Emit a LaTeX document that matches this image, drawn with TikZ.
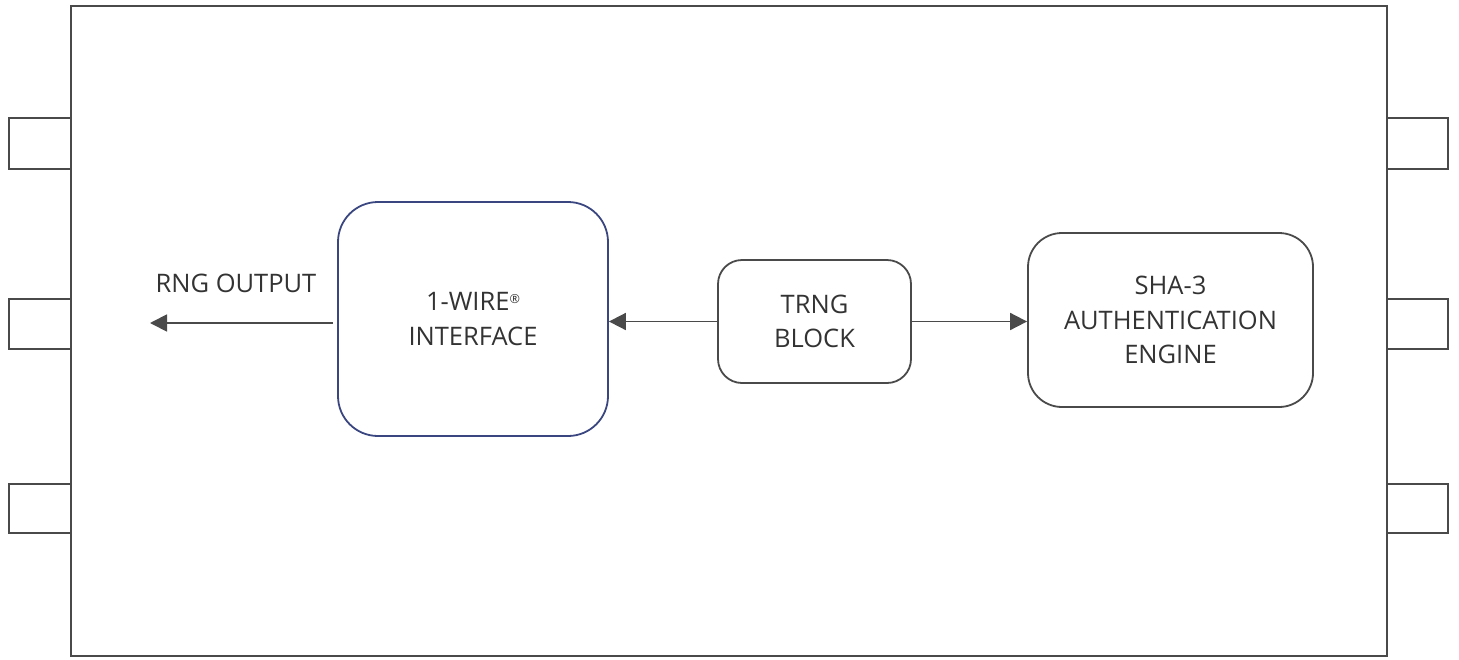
\documentclass[tikz,border=0pt]{standalone}
\usepackage{fontspec}
\setmainfont{Open Sans}
\usetikzlibrary{arrows.meta}
\definecolor{linegray}{HTML}{4A4A4A}
\definecolor{textgray}{HTML}{333333}
\definecolor{ifblue}{HTML}{3A4680}
\tikzset{
  frame/.style={draw=linegray, line width=2pt},
  pin/.style={draw=linegray, line width=2pt},
  block/.style={draw=linegray, line width=1.8pt, align=center, text=textgray,
    font=\fontsize{25.5}{34.5}\selectfont, inner sep=0pt},
  link/.style={draw=linegray, line width=1.8pt, -{Triangle[length=17pt,width=17pt]}},
  lbl/.style={text=textgray, font=\fontsize{25.5}{34.5}\selectfont}
}
\newcommand{\regmark}{\raisebox{0.55ex}{\fontsize{12.5}{12.5}\selectfont\textregistered}}
\begin{document}
\begin{tikzpicture}[x=1pt,y=-1pt]
\useasboundingbox (0,0) rectangle (1459,659);
% package outline
\draw[frame] (71,6) rectangle (1387,656);
% pins on both sides
\foreach \ya/\yb in {118/169, 299/349, 484/533}{
  \draw[pin] (71,\ya) -- (9,\ya) -- (9,\yb) -- (71,\yb);
  \draw[pin] (1387,\ya) -- (1448,\ya) -- (1448,\yb) -- (1387,\yb);
}
% functional blocks
\node[block, draw=ifblue, rounded corners=40pt, minimum width=270pt, minimum height=234pt]
  (wire) at (473,319) {1-WIRE\regmark\\INTERFACE};
\node[block, rounded corners=24pt, minimum width=193pt, minimum height=123pt]
  (trng) at (814.5,321.5) {TRNG\\BLOCK};
\node[block, rounded corners=34pt, minimum width=285pt, minimum height=174pt]
  (sha) at (1170.5,320) {SHA-3\\AUTHENTICATION\\ENGINE};
% output end point
\coordinate (out) at (150,323);
% connectors
\draw[link] (trng.west) -- (wire.east |- trng.west);
\draw[link] (trng.east) -- (sha.west |- trng.east);
\draw[link] ([xshift=-4pt]wire.west |- out) -- (out);
\node[lbl] (rnglbl) at (236,283) {RNG OUTPUT};
\end{tikzpicture}
\end{document}
